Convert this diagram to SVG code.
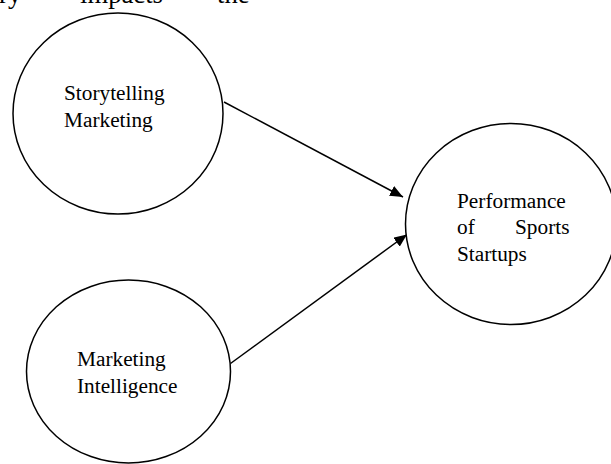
<svg xmlns="http://www.w3.org/2000/svg" width="611" height="464" viewBox="0 0 611 464">
  <style>
    .node { fill: #ffffff; stroke: #000000; stroke-width: 1.5; }
    .label { font-family: "Liberation Serif", "Times New Roman", serif; font-size: 21.3px; fill: #000000; }
    .body { font-family: "Liberation Serif", "Times New Roman", serif; font-size: 26.7px; fill: #000000; }
    .edge { stroke: #000000; stroke-width: 1.5; fill: none; marker-end: url(#arrow); }
  </style>
  <defs>
    <marker id="arrow" markerWidth="13" markerHeight="11" refX="13" refY="5.5" orient="auto" markerUnits="userSpaceOnUse">
      <path d="M0,0 L13,5.5 L0,11 Z" fill="#000000"/>
    </marker>
  </defs>
  <rect width="611" height="464" fill="#ffffff"/>

  <!-- running paragraph text, cut off at the top edge -->
  <g id="paragraph">
    <text class="body" x="-1" y="2.5">ry</text>
    <text class="body" x="80" y="2.5">impacts</text>
    <text class="body" x="217" y="2.5">the</text>
  </g>

  <g id="connectors">
    <line class="edge" x1="224" y1="102" x2="403" y2="197"/>
    <line class="edge" x1="230.5" y1="363.5" x2="407" y2="234.5"/>
  </g>

  <g id="storytelling-marketing">
    <ellipse class="node" cx="118" cy="113.5" rx="105" ry="100.5"/>
    <text class="label" x="64" y="100">Storytelling</text>
    <text class="label" x="64" y="127">Marketing</text>
  </g>

  <g id="marketing-intelligence">
    <ellipse class="node" cx="128.5" cy="371.5" rx="102" ry="91.5"/>
    <text class="label" x="77" y="366">Marketing</text>
    <text class="label" x="77" y="393">Intelligence</text>
  </g>

  <g id="performance-sports-startups">
    <ellipse class="node" cx="511" cy="224" rx="105.5" ry="100.5"/>
    <text class="label" x="457" y="208">Performance</text>
    <text class="label" x="457" y="234">of</text>
    <text class="label" x="515" y="234">Sports</text>
    <text class="label" x="457" y="261">Startups</text>
  </g>
</svg>
